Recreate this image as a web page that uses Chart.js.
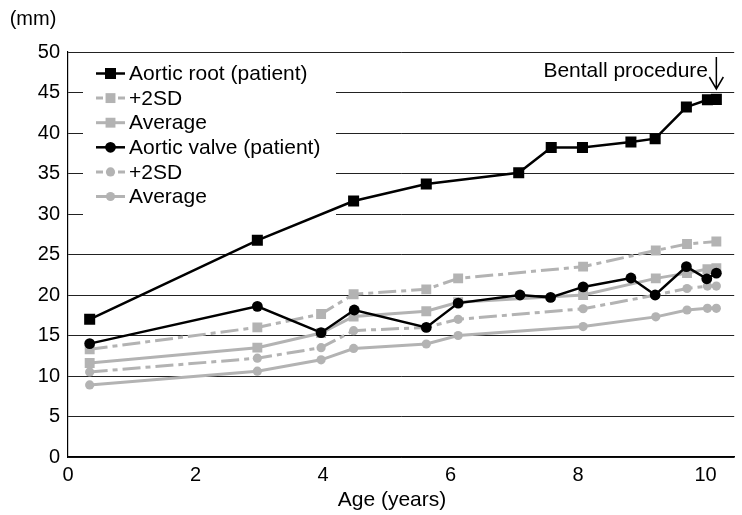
<!DOCTYPE html>
<html lang="en">
<head>
<meta charset="UTF-8">
<title>Aortic root and aortic valve diameter</title>
<script src="https://cdn.jsdelivr.net/npm/chart.js"></script>
<style>
  html, body { margin: 0; padding: 0; background: #fff; }
</style>
</head>
<body>
<canvas id="grafico" width="742" height="515"></canvas>
<script>
  // patient measurements: age (years) and diameter (mm)
  const rootAge = [0.34, 2.97, 4.48, 5.62, 7.07, 7.58, 8.07, 8.83, 9.21, 9.70, 10.03, 10.17];
  const rootPatient = [17.0, 26.75, 31.6, 33.7, 35.1, 38.2, 38.2, 38.9, 39.3, 43.2, 44.1, 44.15];
  const valveAge = [0.34, 2.97, 3.97, 4.49, 5.62, 6.12, 7.09, 7.57, 8.08, 8.83, 9.21, 9.70, 10.02, 10.17];
  const valvePatient = [14.0, 18.6, 15.35, 18.15, 16.0, 19.0, 20.0, 19.7, 21.0, 22.1, 20.0, 23.5, 22.0, 22.7];

  // normal values for the same ages
  const normAge = [0.34, 2.97, 3.97, 4.48, 5.62, 6.12, 8.08, 9.22, 9.71, 10.03, 10.17];
  const root2SDAge = [0.34, 2.97, 3.97, 4.48, 5.62, 6.12, 8.08, 9.22, 9.71, 10.17];
  const root2SD = [13.3, 16.0, 17.65, 20.1, 20.7, 22.05, 23.5, 25.5, 26.3, 26.6];
  const rootAvg = [11.6, 13.5, 15.3, 17.35, 18.0, 19.1, 20.0, 22.05, 22.7, 23.2, 23.3];
  const valve2SD = [10.5, 12.2, 13.5, 15.6, 16.0, 17.0, 18.3, 20.0, 20.8, 21.1, 21.1];
  const valveAvg = [8.9, 10.6, 12.0, 13.4, 13.95, 15.0, 16.1, 17.3, 18.15, 18.35, 18.35];

  const xTicks = [0, 2, 4, 6, 8, 10];
  const legendLabels = ['Aortic root (patient)', '+2SD', 'Average', 'Aortic valve (patient)', '+2SD', 'Average'];
  const bentallAge = 10.17;

  const fonte = '"Liberation Sans", Arial, sans-serif';
  const preto = '#000';
  const cinza = '#b3b3b3';
  const tracoPonto = [18, 5, 5, 5];

  function pontos(xs, ys) {
    return ys.map((v, i) => ({ x: xs[i], y: v }));
  }

  function serie(label, xs, ys, cor, forma, raio, largura, traco, ordem) {
    return {
      label: label,
      data: pontos(xs, ys),
      showLine: true,
      borderColor: cor,
      backgroundColor: cor,
      borderWidth: largura,
      borderDash: traco,
      pointStyle: forma,
      pointRadius: raio,
      pointBorderWidth: 0,
      pointBackgroundColor: cor,
      order: ordem
    };
  }

  const datasets = [
    serie(legendLabels[0], rootAge, rootPatient, preto, 'rect', 7.8, 2.5, [], 0),
    serie(legendLabels[1], root2SDAge, root2SD, cinza, 'rect', 7, 3, tracoPonto, 1),
    serie(legendLabels[2], normAge, rootAvg, cinza, 'rect', 7, 3, [], 1),
    serie(legendLabels[3], valveAge, valvePatient, preto, 'circle', 5.4, 2.5, [], 0),
    serie(legendLabels[4], normAge, valve2SD, cinza, 'circle', 4.6, 3, tracoPonto, 1),
    serie(legendLabels[5], normAge, valveAvg, cinza, 'circle', 4.6, 3, [], 1)
  ];

  function marcador(ctx, ds, x, y) {
    ctx.fillStyle = ds.pointBackgroundColor;
    ctx.beginPath();
    if (ds.pointStyle === 'rect') {
      const s = Math.SQRT1_2 * ds.pointRadius;
      ctx.rect(x - s, y - s, 2 * s, 2 * s);
    } else {
      ctx.arc(x, y, ds.pointRadius, 0, Math.PI * 2);
    }
    ctx.fill();
  }

  // legend box, axis texts and the Bentall arrow
  const extras = {
    id: 'extras',
    beforeDatasetsDraw(chart) {
      const ctx = chart.ctx;
      ctx.save();
      ctx.fillStyle = '#fff';
      ctx.fillRect(83, 58, 253, 158);
      ctx.restore();
    },
    afterDraw(chart) {
      const ctx = chart.ctx;
      ctx.save();
      ctx.font = '21px ' + fonte;
      ctx.textBaseline = 'middle';
      chart.data.datasets.forEach((ds, i) => {
        const y = 73.5 + i * 24.6;
        ctx.strokeStyle = ds.borderColor;
        ctx.lineWidth = ds.borderWidth;
        ctx.setLineDash(ds.borderDash.length ? [7, 4] : []);
        ctx.beginPath();
        ctx.moveTo(96, y);
        ctx.lineTo(125, y);
        ctx.stroke();
        marcador(ctx, ds, 110.5, y);
        ctx.fillStyle = '#000';
        ctx.textAlign = 'left';
        ctx.fillText(ds.label, 129, y + 1);
      });
      ctx.setLineDash([]);

      ctx.fillStyle = '#000';
      ctx.font = '20px ' + fonte;
      ctx.textAlign = 'center';
      ctx.fillText('(mm)', 33, 19);
      ctx.font = '21px ' + fonte;
      ctx.fillText('Age (years)', 392, 500);

      // Bentall procedure
      const xb = chart.scales.x.getPixelForValue(bentallAge);
      ctx.textAlign = 'right';
      ctx.fillText('Bentall procedure', 708, 71);
      ctx.strokeStyle = '#000';
      ctx.lineWidth = 1.5;
      ctx.beginPath();
      ctx.moveTo(xb, 57);
      ctx.lineTo(xb, 89);
      ctx.moveTo(xb - 7, 77);
      ctx.lineTo(xb, 89);
      ctx.lineTo(xb + 7, 77);
      ctx.stroke();
      ctx.restore();
    }
  };

  const ctx1 = document.getElementById('grafico').getContext('2d');
  const grafico = new Chart(ctx1, {
    type: 'scatter',
    data: { datasets: datasets },
    options: {
      responsive: false,
      animation: false,
      devicePixelRatio: 1,
      layout: { padding: { top: 52, right: -6, left: 0, bottom: 0 } },
      scales: {
        x: {
          type: 'linear',
          min: 0,
          max: 10.45,
          afterBuildTicks: s => { s.ticks = xTicks.map(v => ({ value: v })); },
          afterFit: s => { s.height = 58; s.paddingLeft = 0; s.paddingRight = 0; },
          grid: { display: false, drawTicks: false },
          border: { display: true, color: '#000', width: 1.5 },
          ticks: { color: '#000', padding: 6, font: { family: fonte, size: 20 } }
        },
        y: {
          min: 0,
          max: 50,
          afterFit: s => { s.width = 68; s.paddingTop = 0; s.paddingBottom = 0; },
          grid: { color: '#222', lineWidth: 1, drawTicks: false },
          border: { display: true, color: '#000', width: 1.2 },
          ticks: { stepSize: 5, color: '#000', padding: 8, font: { family: fonte, size: 20 } }
        }
      },
      plugins: {
        legend: { display: false },
        tooltip: { enabled: false }
      }
    },
    plugins: [extras]
  });
</script>
</body>
</html>
